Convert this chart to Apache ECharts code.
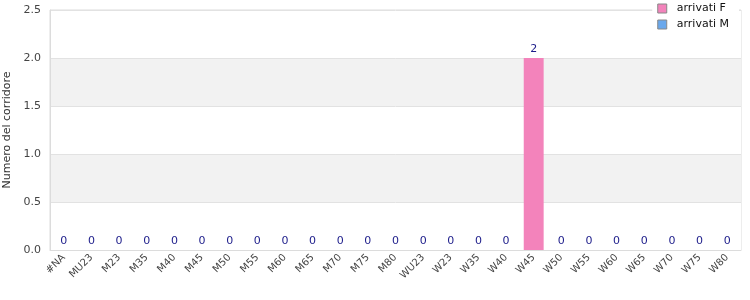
<!DOCTYPE html>
<html><head><meta charset="utf-8">
<script src="https://cdn.jsdelivr.net/npm/echarts@6/dist/echarts.min.js"></script>
<style>html,body{margin:0;padding:0;background:#fff}#c{width:750px;height:300px}</style>
</head><body><div id="c"></div>
<script>
const categories = ['#NA','MU23','M23','M35','M40','M45','M50','M55','M60','M65','M70','M75','M80','WU23','W23','W35','W40','W45','W50','W55','W60','W65','W70','W75','W80'];
const arrivatiF = [0,0,0,0,0,0,0,0,0,0,0,0,0,0,0,0,0,2,0,0,0,0,0,0,0];
const arrivatiM = [0,0,0,0,0,0,0,0,0,0,0,0,0,0,0,0,0,0,0,0,0,0,0,0,0];
const yTicks = {min:0, max:2.5, interval:0.5};

const chart = echarts.init(document.getElementById('c'), null, {renderer:'canvas'});
chart.setOption({
  animation:false,
  textStyle:{fontFamily:'DejaVu Sans'},
  grid:{left:50, top:10, right:9, bottom:50, show:true, borderColor:'#dcdcdc', borderWidth:1, z:0, containLabel:false, outerBoundsMode:'none'},
  legend:{
    orient:'vertical', right:11, top:1, itemWidth:9, itemHeight:9, itemGap:5, icon:'rect',
    backgroundColor:'#fff', padding:[2,10,2,5],
    textStyle:{fontSize:11, color:'#111', fontFamily:'DejaVu Sans', padding:[0,0,0,5]},
    data:[{name:'arrivati F', itemStyle:{borderColor:'#888', borderWidth:1}},{name:'arrivati M', itemStyle:{borderColor:'#888', borderWidth:1}}]
  },
  xAxis:{
    type:'category', data:categories,
    axisLine:{lineStyle:{color:'#dcdcdc'}}, axisTick:{show:false},
    axisLabel:{rotate:45, interval:0, fontSize:10, color:'#444', margin:6}
  },
  yAxis:{
    type:'value', min:yTicks.min, max:yTicks.max, interval:yTicks.interval,
    name:'Numero del corridore', nameLocation:'middle', nameGap:36,
    nameTextStyle:{fontSize:11, color:'#333'},
    axisLine:{show:true, lineStyle:{color:'#dcdcdc'}}, axisTick:{show:false},
    axisLabel:{fontSize:11, color:'#444', formatter:v=>v.toFixed(1), margin:9},
    splitLine:{show:true, lineStyle:{color:'#e2e2e2'}},
    splitArea:{show:true, areaStyle:{color:['#ffffff','#f2f2f2']}}
  },
  series:[
    {name:'arrivati F', type:'bar', stack:'a', data:arrivatiF, barWidth:'72%',
     itemStyle:{color:'#f383bb'},
     label:{show:true, position:'top', color:'#1c1c8a', fontSize:11, distance:3}},
    {name:'arrivati M', type:'bar', stack:'a', data:arrivatiM, barWidth:'72%',
     itemStyle:{color:'#6aa8ec'}, label:{show:false}}
  ]
});
</script></body></html>
